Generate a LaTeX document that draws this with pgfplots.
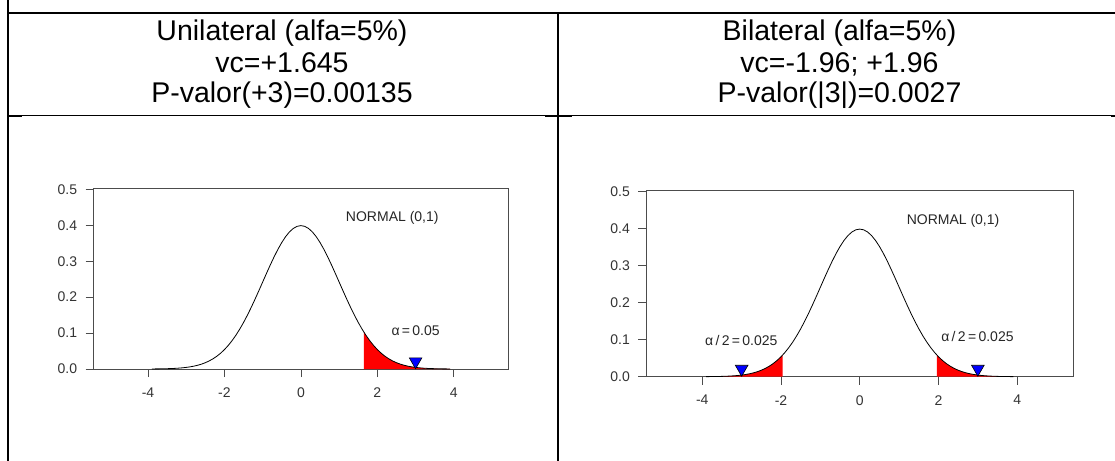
\documentclass[border=0pt]{standalone}
\usepackage{fontspec}
\setmainfont{Liberation Sans}
\usepackage{pgfplots}
\pgfplotsset{compat=1.18}
\usepackage{pgfplotstable}

% densidade normal padrao, passo 0.1
\pgfplotstableread{
x y
-3.9 0.00020
-3.8 0.00029
-3.7 0.00042
-3.6 0.00061
-3.5 0.00087
-3.4 0.00123
-3.3 0.00172
-3.2 0.00238
-3.1 0.00327
-3.0 0.00443
-2.9 0.00595
-2.8 0.00792
-2.7 0.01042
-2.6 0.01358
-2.5 0.01753
-2.4 0.02239
-2.3 0.02833
-2.2 0.03547
-2.1 0.04398
-2.0 0.05399
-1.9 0.06562
-1.8 0.07895
-1.7 0.09405
-1.6 0.11092
-1.5 0.12952
-1.4 0.14973
-1.3 0.17137
-1.2 0.19419
-1.1 0.21785
-1.0 0.24197
-0.9 0.26609
-0.8 0.28969
-0.7 0.31225
-0.6 0.33322
-0.5 0.35207
-0.4 0.36827
-0.3 0.38139
-0.2 0.39104
-0.1 0.39695
0.0 0.39894
0.1 0.39695
0.2 0.39104
0.3 0.38139
0.4 0.36827
0.5 0.35207
0.6 0.33322
0.7 0.31225
0.8 0.28969
0.9 0.26609
1.0 0.24197
1.1 0.21785
1.2 0.19419
1.3 0.17137
1.4 0.14973
1.5 0.12952
1.6 0.11092
1.7 0.09405
1.8 0.07895
1.9 0.06562
2.0 0.05399
2.1 0.04398
2.2 0.03547
2.3 0.02833
2.4 0.02239
2.5 0.01753
2.6 0.01358
2.7 0.01042
2.8 0.00792
2.9 0.00595
3.0 0.00443
3.1 0.00327
3.2 0.00238
3.3 0.00172
3.4 0.00123
3.5 0.00087
3.6 0.00061
3.7 0.00042
3.8 0.00029
3.9 0.00020
}\normalcurve

% cauda direita a partir de 1.645
\pgfplotstableread{
x y
1.645 0.10314
1.7 0.09405
1.8 0.07895
1.9 0.06562
2.0 0.05399
2.1 0.04398
2.2 0.03547
2.3 0.02833
2.4 0.02239
2.5 0.01753
2.6 0.01358
2.7 0.01042
2.8 0.00792
2.9 0.00595
3.0 0.00443
3.1 0.00327
3.2 0.00238
3.3 0.00172
3.4 0.00123
3.5 0.00087
3.6 0.00061
3.7 0.00042
3.8 0.00029
3.9 0.00020
}\tailuni

% caudas bilaterais (+-1.96)
\pgfplotstableread{
x y
1.96 0.05844
2.0 0.05399
2.1 0.04398
2.2 0.03547
2.3 0.02833
2.4 0.02239
2.5 0.01753
2.6 0.01358
2.7 0.01042
2.8 0.00792
2.9 0.00595
3.0 0.00443
3.1 0.00327
3.2 0.00238
3.3 0.00172
3.4 0.00123
3.5 0.00087
3.6 0.00061
3.7 0.00042
3.8 0.00029
3.9 0.00020
}\tailright

\pgfplotstableread{
x y
-3.9 0.00020
-3.8 0.00029
-3.7 0.00042
-3.6 0.00061
-3.5 0.00087
-3.4 0.00123
-3.3 0.00172
-3.2 0.00238
-3.1 0.00327
-3.0 0.00443
-2.9 0.00595
-2.8 0.00792
-2.7 0.01042
-2.6 0.01358
-2.5 0.01753
-2.4 0.02239
-2.3 0.02833
-2.2 0.03547
-2.1 0.04398
-2.0 0.05399
-1.96 0.05844
}\tailleft

\pgfplotsset{
  normalbox/.style={
    scale only axis,
    xmin=-5.42, xmax=5.42,
    ymin=0,
    axis line style={black!70, line width=0.8pt},
    tick style={black!70, line width=0.8pt},
    tick align=outside,
    major tick length=8pt,
    tick pos=left,
    xtick={-4,-2,0,2,4},
    xticklabels={-4,-2,0,2,4},
    ytick={0,0.1,0.2,0.3,0.4,0.5},
    yticklabels={0.0,0.1,0.2,0.3,0.4,0.5},
    ticklabel style={font=\fontsize{14}{16}\selectfont, text=black!80},
    xticklabel style={yshift=-7pt},
    yticklabel style={xshift=-5pt},
    clip=false,
  },
  tail/.style={fill=red, draw=none, forget plot},
  curve/.style={black, line width=0.8pt, no marks},
  pval/.style={only marks, mark=triangle*, mark size=7.3pt,
    mark options={rotate=180, fill=blue, draw=black, line width=0.6pt}},
}
\tikzset{lbl/.style={font=\fontsize{14}{16}\selectfont, text=black!85}}

\newcommand{\titlefont}{\fontsize{28.5}{31}\selectfont}

\begin{document}
\begin{tikzpicture}
\useasboundingbox (0pt,0pt) rectangle (1115pt,460pt);

% tabela
\draw[line width=2pt] (7.7pt,470pt) -- (7.7pt,446.7pt) -- (1125pt,446.7pt);
\draw[line width=2pt] (558pt,446.7pt) -- (558pt,-10pt);
\draw[line width=2pt] (7.7pt,-10pt) -- (7.7pt,446.7pt);
\draw[line width=1pt] (7.7pt,344.7pt) -- (1125pt,344.7pt);
\draw[line width=2pt] (7.7pt,344.2pt) -- (22pt,344.2pt);
\draw[line width=2pt] (545pt,344.2pt) -- (572pt,344.2pt);
\draw[line width=2pt] (1111pt,344.2pt) -- (1125pt,344.2pt);

% titulos
\node[anchor=base, font=\titlefont] at (282pt,419.3pt) {Unilateral (alfa=5\%)};
\node[anchor=base, font=\titlefont] at (282pt,387pt) {vc=+1.645};
\node[anchor=base, font=\titlefont] at (282pt,357pt) {P-valor(+3)=0.00135};
\node[anchor=base, font=\titlefont] at (839.5pt,419.3pt) {Bilateral (alfa=5\%)};
\node[anchor=base, font=\titlefont] at (839.5pt,387pt) {vc=-1.96; +1.96};
\node[anchor=base, font=\titlefont] at (839.5pt,357pt) {P-valor(|3|)=0.0027};

% unilateral
\begin{axis}[normalbox,
  at={(93.7pt,91pt)}, anchor=south west,
  width=414.4pt, height=180.7pt,
  ymax=0.5028]
\addplot[tail] table {\tailuni} \closedcycle;
\addplot[curve] table {\normalcurve};
\addplot[pval] coordinates {(3,0.021)};
\node[lbl] at (axis cs:2.39,0.421) {NORMAL (0,1)};
\node[lbl] at (axis cs:3.0,0.106) {α\,=\,0.05};
\end{axis}

% bilateral
\begin{axis}[normalbox,
  at={(646.4pt,83.3pt)}, anchor=south west,
  width=426.7pt, height=186.7pt,
  ymax=0.5046]
\addplot[tail] table {\tailleft} \closedcycle;
\addplot[tail] table {\tailright} \closedcycle;
\addplot[curve] table {\normalcurve};
\addplot[pval] coordinates {(-3,0.021) (3,0.021)};
\node[lbl] at (axis cs:2.37,0.42) {NORMAL (0,1)};
\node[lbl] at (axis cs:-3.01,0.0965) {α\,/\,2\,=\,0.025};
\node[lbl] at (axis cs:2.99,0.108) {α\,/\,2\,=\,0.025};
\end{axis}
\end{tikzpicture}
\end{document}
